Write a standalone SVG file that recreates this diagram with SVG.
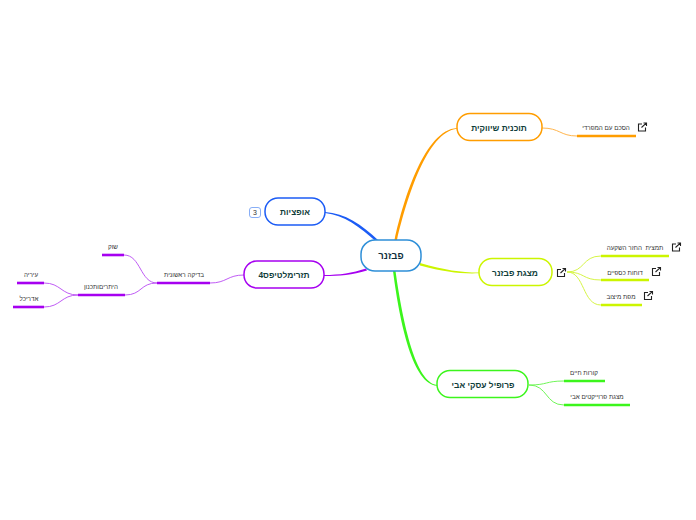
<svg xmlns="http://www.w3.org/2000/svg" width="696" height="520" viewBox="0 0 696 520">
<style>
text{font-family:"Liberation Sans","DejaVu Sans",sans-serif;direction:rtl;text-anchor:middle}
.n{fill:#fff;stroke-width:1.500}
.t{font-size:8.400px;font-weight:bold;fill:#0f3d3a}
.s{font-size:6.300px;fill:#333}
.u{fill:none;stroke-width:2.600}
.l{fill:none;stroke-width:1}
.i{fill:none;stroke:#222;stroke-width:1.100}
.or{stroke:#ff9d00}.ye{stroke:#ccf500}.gr{stroke:#3cf51c}.pu{stroke:#a600f0}.bl{stroke:#1c5cf5}
.lo{stroke:#ffb54d}.ly{stroke:#d6f545}.lg{stroke:#70f658}.lp{stroke:#c05cf5}
</style>
<defs>
<g id="ext" class="i"><path d="M4 1.500H.5V8.500H7.500V5"/><path d="M3.500 5L8 .8M5.500 .5H8.500V3.500"/></g>
</defs>
<g id="connectors">
<path d="M394.500 240C404 197 425 130 457 128L457 128.800C427 132 407 198 397 240Z" fill="#ff9d00"/>
<path d="M325 212C345 213 362 225 378 240L376 241.500C360 227 344 215 325 213Z" fill="#1c5cf5"/>
<path d="M324 275C340 275 352 273 366 268.500L367 270.500C352 275 340 276 324 276Z" fill="#a600f0"/>
<path d="M420 263C445 270 460 272.500 479 272.500L479 273.300C460 274 445 272 420 265.500Z" fill="#ccf500"/>
<path d="M393 271C400 325 413 384 437 385.800L437 385C416 382.500 403 325 395.500 271Z" fill="#3cf51c"/>
<path class="l lo" d="M542 128C560 128 560 136 577 136"/>
<path class="l ly" d="M567 272C585 272 582 256 601 256"/>
<path class="l ly" d="M567 272C585 272 582 280 601 280"/>
<path class="l ly" d="M567 272C585 272 582 305 601 305"/>
<path class="l lg" d="M529 385C548 385 545 381 564 381"/>
<path class="l lg" d="M529 385C548 385 545 405 564 405"/>
<path class="l lp" d="M244 275C227 275 227 283 210 283"/>
<path class="l lp" d="M157 283C140 283 141 255 124 255"/>
<path class="l lp" d="M157 283C140 283 142 295 125 295"/>
<path class="l lp" d="M78 295C61 295 61 283 44 283"/>
<path class="l lp" d="M78 295C61 295 61 307 44 307"/>
<path class="u or" d="M577 136H636"/>
<path class="u ye" d="M601 256H669"/>
<path class="u ye" d="M601 280H649"/>
<path class="u ye" d="M601 305H642"/>
<path class="u gr" d="M564 381H605"/>
<path class="u gr" d="M564 405H630"/>
<path class="u pu" d="M157 283H210"/>
<path class="u pu" d="M102 255H124"/>
<path class="u pu" d="M78 295H125"/>
<path class="u pu" d="M17 283H44"/>
<path class="u pu" d="M13 307H44"/>
</g>
<g id="center"><rect class="n" x="361" y="240" width="60" height="31" rx="14" stroke="#2e8fd8"/><text x="391" y="259" style="font-size:9.500px;font-weight:bold;fill:#0f2f3d">פבזנר</text></g>
<g id="marketing"><rect class="n or" x="457" y="113.500" width="85" height="27" rx="13"/><text class="t" x="499" y="131">תוכנית שיווקית</text></g>
<g id="options"><rect class="n bl" x="265" y="198" width="60" height="27" rx="13"/><text class="t" x="295" y="215">אופציות</text></g>
<g id="options-count"><rect x="249.500" y="207.500" width="11" height="10" rx="2.500" fill="#fff" stroke="#7aa5f5" stroke-width=".9"/><text x="255" y="215" style="font-size:7px;fill:#333">3</text></g>
<g id="templates"><rect class="n pu" x="244" y="261" width="80" height="27" rx="13"/><text class="t" x="284" y="278">תזרימלטיפס4</text></g>
<g id="presentation"><rect class="n ye" x="479" y="258.500" width="73" height="27" rx="13"/><text class="t" x="515" y="276">מצגת פבזנר</text></g>
<g id="profile"><rect class="n gr" x="437" y="370.500" width="91" height="27" rx="13"/><text class="t" x="483" y="388">פרופיל עסקי אבי</text></g>
<g id="agreement"><text class="s" x="606" y="130">הסכם עם המפרדי</text><use href="#ext" x="638" y="122.500"/></g>
<g id="icon-presentation"><use href="#ext" x="557" y="268"/></g>
<g id="summary"><text class="s" x="635" y="250" xml:space="preserve">תמצית  החזר השקעה</text><use href="#ext" x="672" y="242.500"/></g>
<g id="reports"><text class="s" x="625" y="275">דוחות כספיים</text><use href="#ext" x="652" y="267"/></g>
<g id="map"><text class="s" x="621" y="299">מפת מיצוב</text><use href="#ext" x="644" y="291"/></g>
<g id="cv"><text class="s" x="584" y="375">קורות חיים</text></g>
<g id="projects"><text class="s" x="597" y="399">מצגת פרוייקטים אבי</text></g>
<g id="first-check"><text class="s" x="184" y="277">בדיקה ראשונית</text></g>
<g id="market"><text class="s" x="113" y="249">שוק</text></g>
<g id="permits"><text class="s" x="101" y="289">היתריםותכנון</text></g>
<g id="city"><text class="s" x="31" y="277">עיריה</text></g>
<g id="architect"><text class="s" x="29" y="301">אדריכל</text></g>
</svg>
